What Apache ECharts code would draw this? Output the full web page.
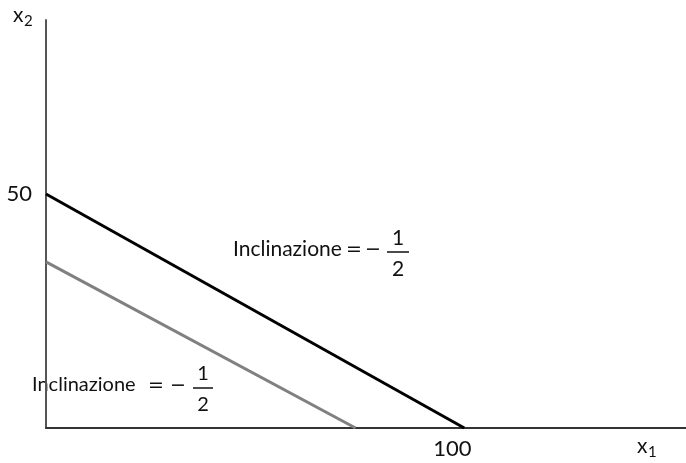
<!DOCTYPE html>
<html>
<head>
<meta charset="utf-8">
<script src="https://cdn.jsdelivr.net/npm/echarts@6/dist/echarts.min.js"></script>
<style>
  html, body { margin: 0; padding: 0; background: #fff; }
  #chart { width: 686px; height: 463px; }
</style>
</head>
<body>
<div id="chart"></div>
<script>
// Budget lines: original (black) and shifted inward (gray), both with slope -1/2
const budgetLine = [[0, 50], [100, 0]];
const shiftedLine = [[0, 35.5], [74, 0]];
const xTickValues = [100];
const yTickValues = [50];

const FONT = 'Lato, "Noto Sans", sans-serif';
const MATH = '"DejaVu Sans", sans-serif';
const chart = echarts.init(document.getElementById('chart'));

// Slope annotation: "Inclinazione = −" followed by a stacked 1/2 fraction
function slopeLabel(o) {
  const c = '#111';
  return [
    { type: 'text', style: { x: o.x, y: o.y, text: 'Inclinazione', font: o.size + 'px ' + FONT, fill: c, textVerticalAlign: 'middle' } },
    { type: 'text', style: { x: o.eqX, y: o.y + 1, text: '=', font: '19px ' + MATH, fill: c, textVerticalAlign: 'middle' } },
    { type: 'text', style: { x: o.minusX, y: o.y + 1, text: '−', font: '19px ' + MATH, fill: c, textVerticalAlign: 'middle' } },
    { type: 'text', style: { x: o.fracX, y: o.y - 11, text: '1', font: o.size + 'px ' + FONT, fill: c, textAlign: 'center', textVerticalAlign: 'middle' } },
    { type: 'line', shape: { x1: o.fracX - o.barHalf, y1: o.y + 3, x2: o.fracX + o.barHalf, y2: o.y + 3 }, style: { stroke: c, lineWidth: 1.5 } },
    { type: 'text', style: { x: o.fracX, y: o.y + 20, text: '2', font: o.size + 'px ' + FONT, fill: c, textAlign: 'center', textVerticalAlign: 'middle' } }
  ];
}

chart.setOption({
  animation: false,
  grid: { left: 46, right: 0, top: 20, bottom: 35, containLabel: false },
  xAxis: {
    type: 'value', min: 0, max: 153,
    axisLine: { show: true, lineStyle: { color: '#333', width: 2 } },
    axisTick: { show: false },
    splitLine: { show: false },
    axisLabel: {
      customValues: xTickValues, fontSize: 22, fontFamily: FONT, color: '#111',
      margin: 10, padding: [0, 24, 0, 0]
    }
  },
  yAxis: {
    type: 'value', min: 0, max: 87.2,
    axisLine: { show: true, lineStyle: { color: '#555', width: 2 } },
    axisTick: { show: false },
    splitLine: { show: false },
    axisLabel: {
      customValues: yTickValues, fontSize: 22, fontFamily: FONT, color: '#111',
      margin: 14, padding: [4, 0, 0, 0]
    }
  },
  series: [
    {
      type: 'line', data: budgetLine, symbol: 'none',
      lineStyle: { color: '#000', width: 3 }, z: 3
    },
    {
      type: 'line', data: shiftedLine, symbol: 'none',
      lineStyle: { color: '#808080', width: 3 }, z: 2
    }
  ],
  graphic: [
    // axis names x2 and x1 with subscripts
    { type: 'text', style: { x: 13, y: 15, text: 'x', font: '21px ' + FONT, fill: '#111', textVerticalAlign: 'middle' } },
    { type: 'text', style: { x: 24, y: 21, text: '2', font: '15px ' + FONT, fill: '#111', textVerticalAlign: 'middle' } },
    { type: 'text', style: { x: 637, y: 446, text: 'x', font: '21px ' + FONT, fill: '#111', textVerticalAlign: 'middle' } },
    { type: 'text', style: { x: 648, y: 452, text: '1', font: '15px ' + FONT, fill: '#111', textVerticalAlign: 'middle' } }
  ]
    .concat(slopeLabel({ x: 233, y: 249, size: 21, eqX: 346, minusX: 365, fracX: 398, barHalf: 11 }))
    .concat(slopeLabel({ x: 32, y: 385, size: 20, eqX: 148, minusX: 170, fracX: 203, barHalf: 10 }))
});
</script>
</body>
</html>
